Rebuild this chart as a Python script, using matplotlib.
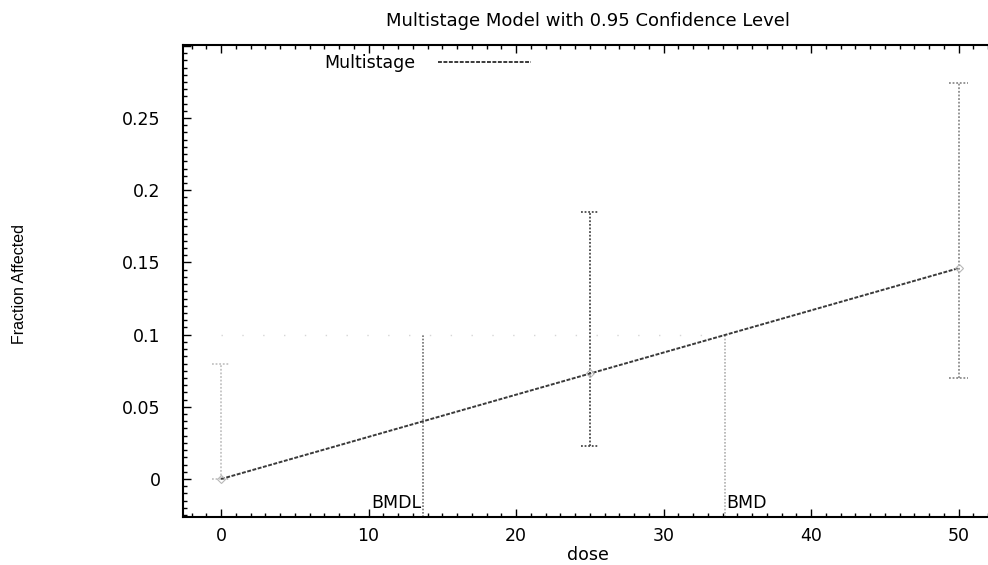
import matplotlib
matplotlib.use("Agg")
import matplotlib.pyplot as plt
from matplotlib.ticker import MultipleLocator, FuncFormatter

plt.rcParams['font.family'] = ['DejaVu Sans']

# data
doses = [0, 25, 50]
observed = [0.0, 0.0734, 0.146]
lower_ci = [0.0, 0.023, 0.070]
upper_ci = [0.080, 0.185, 0.274]
bar_colors = ['#c4c4c4', '#4a4a4a', '#8c8c8c']

model_dose = [0, 10, 20, 30, 40, 50]
model_frac = [0.0, 0.0292, 0.0584, 0.0876, 0.1168, 0.146]

bmr = 0.1
bmd = 34.2
bmdl = 13.68

title = "Multistage Model with 0.95 Confidence Level"
y_label_max = 0.25

FS = 12.5
CAP = 0.62  # cap half-width in dose units (style)

fig = plt.figure(figsize=(9.88, 5.65), dpi=100)
ax = fig.add_axes([183/988, 1-517/565, (988-183)/988, (517-45)/565])
ax.set_xlim(-2.58, 52.0)
ax.set_ylim(-0.0263, 0.3006)
ymin = ax.get_ylim()[0]

# model line
ax.plot(model_dose, model_frac, color='#3a3a3a', lw=1.4, ls=(0, (2, 0.8)),
        label='Multistage', zorder=3)

# error bars (dotted, as in the reference)
for d, o, lo, hi, c in zip(doses, observed, lower_ci, upper_ci, bar_colors):
    ax.vlines(d, lo, hi, colors=c, lw=1.3, linestyles=(0, (1, 1)), zorder=2)
    ax.hlines([lo, hi], d - CAP, d + CAP, colors=c, lw=1.3,
              linestyles=(0, (1, 1)), zorder=2)
    ax.plot([d], [o], marker='D', ms=4.5, mfc='none', mec='#b8b8b8', mew=0.8,
            zorder=4)

# faint BMR line
ax.plot([0, bmd], [bmr, bmr], color='#d6d6d6', lw=1.0, ls=(0, (1, 14)), zorder=1)
# BMD / BMDL vertical lines
ax.vlines(bmdl, ymin, bmr, colors='#707070', lw=1.2, linestyles=(0, (1, 1)), zorder=2)
ax.vlines(bmd, ymin, bmr, colors='#b0b0b0', lw=1.2, linestyles=(0, (1, 1)), zorder=2)

ax.text(bmdl - 0.1, -0.0203, 'BMDL', ha='right', va='baseline', fontsize=FS)
ax.text(bmd + 0.05, -0.0203, 'BMD', ha='left', va='baseline', fontsize=FS)

# legend
leg = ax.legend(loc='center left', bbox_to_anchor=(0.175, 0.962), frameon=False,
                markerfirst=False, fontsize=FS, handlelength=5.4,
                handletextpad=1.3, borderpad=0, borderaxespad=0)

# axes styling
for s in ['left', 'bottom', 'top']:
    ax.spines[s].set_linewidth(1.5)
ax.spines['right'].set_visible(False)

ax.xaxis.set_major_locator(MultipleLocator(10))
ax.xaxis.set_minor_locator(MultipleLocator(1))
ax.yaxis.set_major_locator(MultipleLocator(0.05))
ax.yaxis.set_minor_locator(MultipleLocator(0.005))
ax.yaxis.set_major_formatter(FuncFormatter(
    lambda v, p: ('%g' % round(v, 3)) if v <= y_label_max + 1e-9 else ''))
ax.tick_params(which='both', direction='in', top=True, right=False,
               labelsize=FS, width=1.0)
ax.tick_params(which='major', length=6)
ax.tick_params(which='minor', length=3)
ax.tick_params(axis='x', which='major', pad=7)
ax.tick_params(axis='y', which='major', pad=16)

fig.text(588/988, 1-564/565, 'dose', ha='center', va='bottom', fontsize=FS)
fig.text(20/988, 1-284/565, 'Fraction Affected', rotation=90, ha='center',
         va='center', fontsize=11.5, family=['Liberation Sans', 'DejaVu Sans'])
fig.text(588/988, 1-21/565, title, ha='center', va='center', fontsize=13)

fig.savefig('out.png', dpi=100)
